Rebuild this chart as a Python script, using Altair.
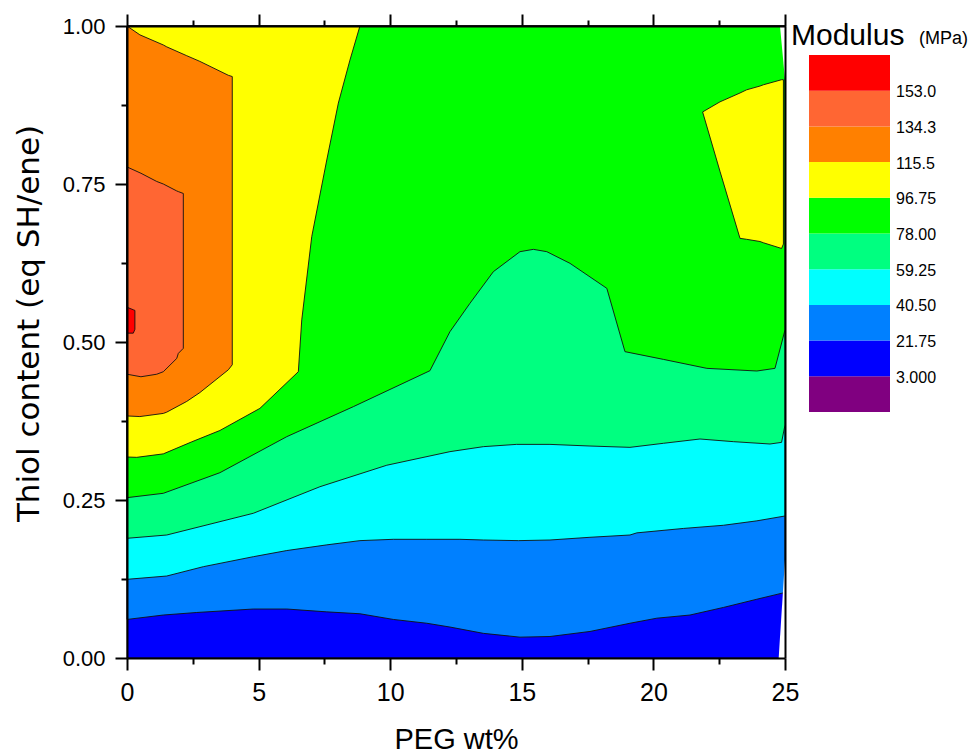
import altair as alt
import pandas as pd

# ---------------- data ----------------
LEVELS = ["3.000", "21.75", "40.50", "59.25", "78.00", "96.75", "115.5", "134.3", "153.0"]
BANDS = ["<3.000"] + LEVELS
COLORS = ["#800080", "#0000FF", "#0080FF", "#00FFFF", "#00FF80",
          "#00FF00", "#FFFF00", "#FF8000", "#FF6633", "#FF0000"]

XTICKS = [0, 2.5, 5, 7.5, 10, 12.5, 15, 17.5, 20, 22.5, 25]
YTICKS = [0, 0.125, 0.25, 0.375, 0.5, 0.625, 0.75, 0.875, 1.0]

# each contour region: PEG wt% positions with lower / upper thiol boundary
blue_x = [0, 25]
blue_lo = [0, 0]
blue_hi = [1, 1]

azure_x = [0, 1.38, 2.65, 4.80, 6.07, 7.59, 8.85, 10.12, 11.39, 12.27, 13.54, 14.93,
           16.07, 17.59, 19.11, 20.13, 21.39, 22.66, 23.93, 24.93, 25]
azure_lo = [0.061, 0.068, 0.072, 0.0775, 0.0775, 0.073, 0.070, 0.061, 0.055, 0.049, 0.039,
            0.033, 0.034, 0.042, 0.055, 0.063, 0.068, 0.080, 0.093, 0.103, 0.105]

cyan_x = [0, 1.51, 2.90, 4.80, 6.07, 7.59, 8.85, 10.12, 11.39, 12.65, 13.54, 14.87,
          16.07, 17.59, 19.11, 19.37, 21.14, 22.66, 23.93, 25]
cyan_lo = [0.1245, 0.1297, 0.1445, 0.1603, 0.170, 0.179, 0.1857, 0.1878, 0.1878, 0.1878,
           0.1867, 0.1857, 0.1867, 0.191, 0.1946, 0.198, 0.205, 0.210, 0.217, 0.2247]

spring_x = [0, 1.51, 4.80, 7.33, 9.87, 12.27, 13.54, 14.80, 16.07, 17.59, 19.11, 20.38,
            21.77, 23.04, 24.43, 24.87, 25]
spring_lo = [0.1894, 0.1946, 0.229, 0.271, 0.305, 0.3265, 0.3344, 0.338, 0.338, 0.3354,
             0.3333, 0.3397, 0.3465, 0.3423, 0.3386, 0.3412, 0.3686]

green_x = [0, 1.38, 3.53, 6.07, 8.60, 11.51, 12.27, 13.03, 13.92, 14.93, 15.44, 15.95,
           16.83, 18.23, 18.92, 20.38, 22.03, 23.93, 24.62, 25]
green_lo = [0.2537, 0.2606, 0.2932, 0.3502, 0.3977, 0.4546, 0.5163, 0.5612, 0.6113, 0.6429,
            0.6466, 0.6429, 0.6245, 0.5849, 0.4847, 0.4725, 0.4583, 0.4541, 0.4583, 0.519]

yellow_x = [0, 0.37, 1.38, 2.46, 3.53, 5.05, 6.51, 6.64, 7.02, 7.59, 8.03, 8.47, 8.85]
yellow_lo = [0.318, 0.3175, 0.323, 0.342, 0.360, 0.395, 0.453, 0.535, 0.667, 0.788, 0.878,
             0.946, 1.0]

island_x = [21.87, 22.53, 23.29, 23.54, 24.05, 24.18, 24.87, 24.94]
island_lo = [0.864, 0.77, 0.664, 0.6625, 0.659, 0.657, 0.648, 0.655]
island_hi = [0.864, 0.880, 0.894, 0.899, 0.905, 0.907, 0.915, 0.915]

orange_x = [0, 0.49, 1.38, 1.51, 2.27, 2.77, 3.85, 4.0]
orange_lo = [0.383, 0.382, 0.387, 0.389, 0.406, 0.420, 0.456, 0.464]
orange_hi = [1.0, 0.986, 0.970, 0.967, 0.953, 0.944, 0.922, 0.920]

ored_x = [0, 0.53, 1.13, 1.38, 1.89, 1.95, 2.14]
ored_lo = [0.449, 0.445, 0.449, 0.453, 0.474, 0.482, 0.49]
ored_hi = [0.777, 0.767, 0.754, 0.750, 0.739, 0.738, 0.735]

red_x = [0, 0.24, 0.30]
red_lo = [0.514, 0.514, 0.52]
red_hi = [0.555, 0.551, 0.55]

# uncovered corners at the right edge of the data hull
gap_top_x = [24.81, 25]
gap_top_lo = [1.0, 0.915]
gap_top_hi = [1.0, 1.0]
gap_bot_x = [24.76, 25]
gap_bot_lo = [0, 0]
gap_bot_hi = [0, 0.155]

REGIONS = [
    ("blue", "3.000", blue_x, blue_lo, blue_hi),
    ("azure", "21.75", azure_x, azure_lo, [1] * len(azure_x)),
    ("cyan", "40.50", cyan_x, cyan_lo, [1] * len(cyan_x)),
    ("spring", "59.25", spring_x, spring_lo, [1] * len(spring_x)),
    ("green", "78.00", green_x, green_lo, [1] * len(green_x)),
    ("yellow", "96.75", yellow_x, yellow_lo, [1] * len(yellow_x)),
    ("island", "96.75", island_x, island_lo, island_hi),
    ("orange", "115.5", orange_x, orange_lo, orange_hi),
    ("ored", "134.3", ored_x, ored_lo, ored_hi),
    ("red", "153.0", red_x, red_lo, red_hi),
]
GAPS = [("gtop", gap_top_x, gap_top_lo, gap_top_hi),
        ("gbot", gap_bot_x, gap_bot_lo, gap_bot_hi)]

rows = []
for name, band, xs, los, his in REGIONS:
    for x, lo, hi in zip(xs, los, his):
        rows.append({"region": name, "band": band, "x": x, "lo": lo, "hi": hi})
df = pd.DataFrame(rows)

grows = []
for name, xs, los, his in GAPS:
    for x, lo, hi in zip(xs, los, his):
        grows.append({"region": name, "x": x, "lo": lo, "hi": hi})
gdf = pd.DataFrame(grows)

legend_df = pd.DataFrame({"band": BANDS, "lo": list(range(10)), "hi": list(range(1, 11))})
label_df = pd.DataFrame({"label": LEVELS, "k": list(range(1, 10))})

# ---------------- styling ----------------
FONT = "Liberation Sans"
XFONT = "Liberation Sans Narrow, Liberation Sans"

cscale = alt.Scale(domain=BANDS, range=COLORS)
xs = alt.Scale(domain=[0, 25], nice=False, zero=False)
ys = alt.Scale(domain=[0, 1], nice=False, zero=False)

minor_x = "datum.value % 5 !== 0"
minor_y = "abs(datum.value*4 - round(datum.value*4)) > 1e-6"

common_axis = dict(tickColor="black", tickWidth=2, tickSize=12, domainColor="black",
                   domainWidth=2, grid=False, zindex=1)

x_bottom = alt.Axis(
    values=XTICKS, orient="bottom",
    labelExpr="datum.value % 5 === 0 ? format(datum.value, 'd') : ''",
    tickDash={"condition": {"test": minor_x, "value": [6, 30]}, "value": []},
    labelFont=XFONT, labelFontSize=25, labelColor="black", labelPadding=10,
    labelFlush=False, labelOverlap=False,
    title="PEG wt%", titleFont=FONT, titleFontSize=29, titleFontWeight="normal",
    titleColor="black", titleY=90, titleBaseline="alphabetic",
    **common_axis)
x_top = alt.Axis(
    values=XTICKS, orient="top", labels=False, title=None,
    tickDash={"condition": {"test": minor_x, "value": [6, 30]}, "value": []},
    **common_axis)
y_left = alt.Axis(
    values=YTICKS, orient="left",
    labelExpr="abs(datum.value*4 - round(datum.value*4)) < 1e-6 ? format(datum.value, '.2f') : ''",
    tickDash={"condition": {"test": minor_y, "value": [6, 30]}, "value": []},
    labelFont=FONT, labelFontSize=22, labelColor="black", labelPadding=10,
    labelFlush=False, labelOverlap=False,
    title="Thiol content (eq SH/ene)", titleFont="DejaVu Sans", titleFontSize=31,
    titleFontWeight="normal", titleColor="black", titleAngle=270,
    titleX=-98, titleY=297, titleBaseline="middle", titleAlign="center",
    **common_axis)
y_right = alt.Axis(orient="right", ticks=False, labels=False, title=None,
                   domainColor="black", domainWidth=2, grid=False, zindex=1)

layers = []
for i, (name, band, _, _, _) in enumerate(REGIONS):
    if i == 0:
        xa, ya = x_bottom, y_left
    elif i == 1:
        xa, ya = x_top, y_right
    else:
        xa, ya = None, None
    layers.append(
        alt.Chart(df)
        .transform_filter(alt.datum.region == name)
        .mark_area(stroke="#111111", strokeWidth=0.9, opacity=1, interpolate="linear")
        .encode(
            x=alt.X("x:Q", scale=xs, axis=xa),
            y=alt.Y("lo:Q", scale=ys, axis=ya),
            y2="hi:Q",
            color=alt.Color("band:N", scale=cscale, legend=None),
        )
    )

for name, _, _, _ in GAPS:
    layers.append(
        alt.Chart(gdf)
        .transform_filter(alt.datum.region == name)
        .mark_area(color="white", opacity=1)
        .encode(
            x=alt.X("x:Q", scale=xs, axis=None),
            y=alt.Y("lo:Q", scale=ys, axis=None),
            y2="hi:Q",
        )
    )

# ---------------- custom legend ----------------
lx = alt.Scale(domain=[0, 1], range=[682, 763], nice=False, zero=False)
ly = alt.Scale(domain=[0, 10], range=[386, 29], nice=False, zero=False)

legend_rect = (
    alt.Chart(legend_df)
    .transform_calculate(lx0="0", lx1="1")
    .mark_rect(opacity=1)
    .encode(
        x=alt.X("lx0:Q", scale=lx, axis=None),
        x2="lx1:Q",
        y=alt.Y("lo:Q", scale=ly, axis=None),
        y2="hi:Q",
        color=alt.Color("band:N", scale=cscale, legend=None),
    )
)
legend_text = (
    alt.Chart(label_df)
    .transform_calculate(lx="1")
    .mark_text(align="left", baseline="middle", dx=6, dy=1.5, fontSize=16, font=FONT,
               color="black")
    .encode(
        x=alt.X("lx:Q", scale=lx, axis=None),
        y=alt.Y("k:Q", scale=ly, axis=None),
        text="label:N",
    )
)
title_df = pd.DataFrame({"t": ["Modulus"]})
unit_df = pd.DataFrame({"t": ["(MPa)"]})
legend_title = (
    alt.Chart(title_df)
    .transform_calculate(lx="0", ly="10")
    .mark_text(align="left", baseline="alphabetic", dx=-18, dy=-10, fontSize=30,
               font=FONT, color="black")
    .encode(x=alt.X("lx:Q", scale=lx, axis=None), y=alt.Y("ly:Q", scale=ly, axis=None),
            text="t:N")
)
legend_unit = (
    alt.Chart(unit_df)
    .transform_calculate(lx="0", ly="10")
    .mark_text(align="left", baseline="alphabetic", dx=110, dy=-11, fontSize=18,
               font=FONT, color="black")
    .encode(x=alt.X("lx:Q", scale=lx, axis=None), y=alt.Y("ly:Q", scale=ly, axis=None),
            text="t:N")
)

layers += [legend_rect, legend_text, legend_title, legend_unit]

chart = (
    alt.layer(*layers)
    .resolve_scale(x="independent", y="independent")
    .properties(
        width=658, height=632,
        padding={"left": 127, "top": 26, "right": 192, "bottom": 95},
        autosize=alt.AutoSizeParams(type="none"),
        background="white",
    )
    .configure_view(stroke=None)
)

chart.save("out.html", embed_options={"renderer": "svg", "actions": False})
